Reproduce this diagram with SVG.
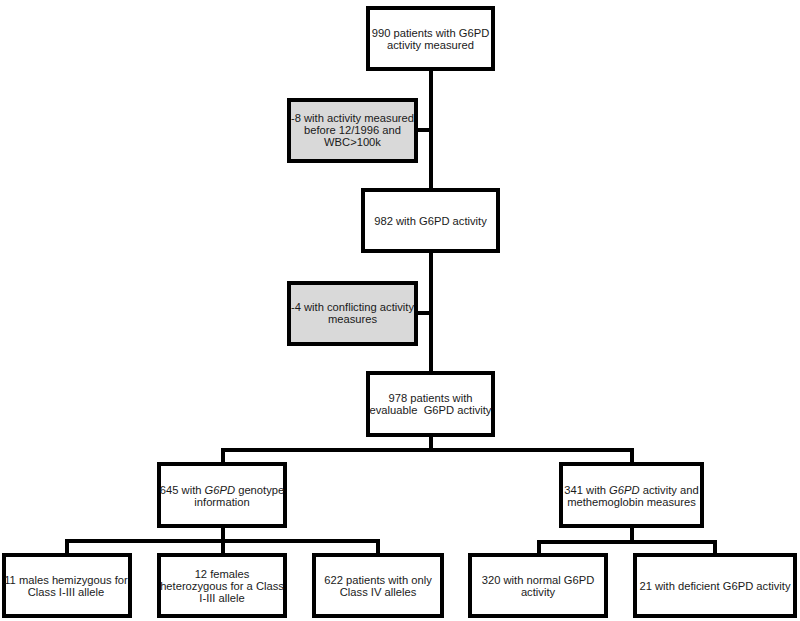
<svg xmlns="http://www.w3.org/2000/svg" width="800" height="621" viewBox="0 0 800 621">
<style>
.box{fill:#fff;stroke:#000;stroke-width:4}
.gray{fill:#d9d9d9;stroke:#000;stroke-width:4}
.t{font-family:"Liberation Sans",Arial,sans-serif;font-size:11.2px;fill:#1a1a1a;text-anchor:middle}
.c{fill:none;stroke:#000;stroke-width:4;stroke-linejoin:miter}
</style>
<rect width="800" height="621" fill="#fff"/>
<g id="connectors">
<path class="c" d="M431 71 V188"/>
<path class="c" d="M418 130 H431"/>
<path class="c" d="M431 253 V371"/>
<path class="c" d="M418 313 H431"/>
<path class="c" d="M431 437 V450"/>
<path class="c" d="M223 462 V450 H632 V462"/>
<path class="c" d="M223 528 V553"/>
<path class="c" d="M67 553 V541 H378 V553"/>
<path class="c" d="M632 528 V542"/>
<path class="c" d="M539 553 V542 H715 V553"/>
</g>
<g id="n990">
<rect class="box" x="368" y="8" width="125" height="61"/>
<text class="t" x="430.5" y="37">990 patients with G6PD</text>
<text class="t" x="430.5" y="48.5">activity measured</text>
</g>
<g id="excl8">
<rect class="gray" x="289" y="100" width="127" height="61"/>
<text class="t" x="352.5" y="122">-8 with activity measured</text>
<text class="t" x="352.5" y="134">before 12/1996 and</text>
<text class="t" x="352.5" y="146">WBC&gt;100k</text>
</g>
<g id="n982">
<rect class="box" x="363" y="190" width="135" height="61"/>
<text class="t" x="430.5" y="225">982 with G6PD activity</text>
</g>
<g id="excl4">
<rect class="gray" x="289" y="283" width="127" height="61"/>
<text class="t" x="352.5" y="311">-4 with conflicting activity</text>
<text class="t" x="352.5" y="323">measures</text>
</g>
<g id="n978">
<rect class="box" x="368" y="373" width="125" height="62"/>
<text class="t" x="430.5" y="402">978 patients with</text>
<text class="t" x="430.5" y="413.5" xml:space="preserve">evaluable  G6PD activity</text>
</g>
<g id="n645">
<rect class="box" x="159" y="464" width="126" height="62"/>
<text class="t" x="222" y="494">645 with <tspan font-style="italic">G6PD</tspan> genotype</text>
<text class="t" x="222" y="505.5">information</text>
</g>
<g id="n341">
<rect class="box" x="561" y="464" width="141" height="62"/>
<text class="t" x="631.5" y="494">341 with <tspan font-style="italic">G6PD</tspan> activity and</text>
<text class="t" x="631.5" y="505.5">methemoglobin measures</text>
</g>
<g id="n11">
<rect class="box" x="4" y="555" width="126" height="61"/>
<text class="t" x="66" y="584">11 males hemizygous for</text>
<text class="t" x="66" y="596">Class I-III allele</text>
</g>
<g id="n12">
<rect class="box" x="159" y="555" width="126" height="61"/>
<text class="t" x="222" y="578">12 females</text>
<text class="t" x="222" y="590">heterozygous for a Class</text>
<text class="t" x="222" y="601.5">I-III allele</text>
</g>
<g id="n622">
<rect class="box" x="314" y="555" width="128" height="61"/>
<text class="t" x="378" y="584">622 patients with only</text>
<text class="t" x="378" y="596">Class IV alleles</text>
</g>
<g id="n320">
<rect class="box" x="470" y="555" width="136" height="61"/>
<text class="t" x="538" y="584">320 with normal G6PD</text>
<text class="t" x="538" y="596">activity</text>
</g>
<g id="n21">
<rect class="box" x="635" y="555" width="160" height="61"/>
<text class="t" x="715" y="590">21 with deficient G6PD activity</text>
</g>
</svg>
